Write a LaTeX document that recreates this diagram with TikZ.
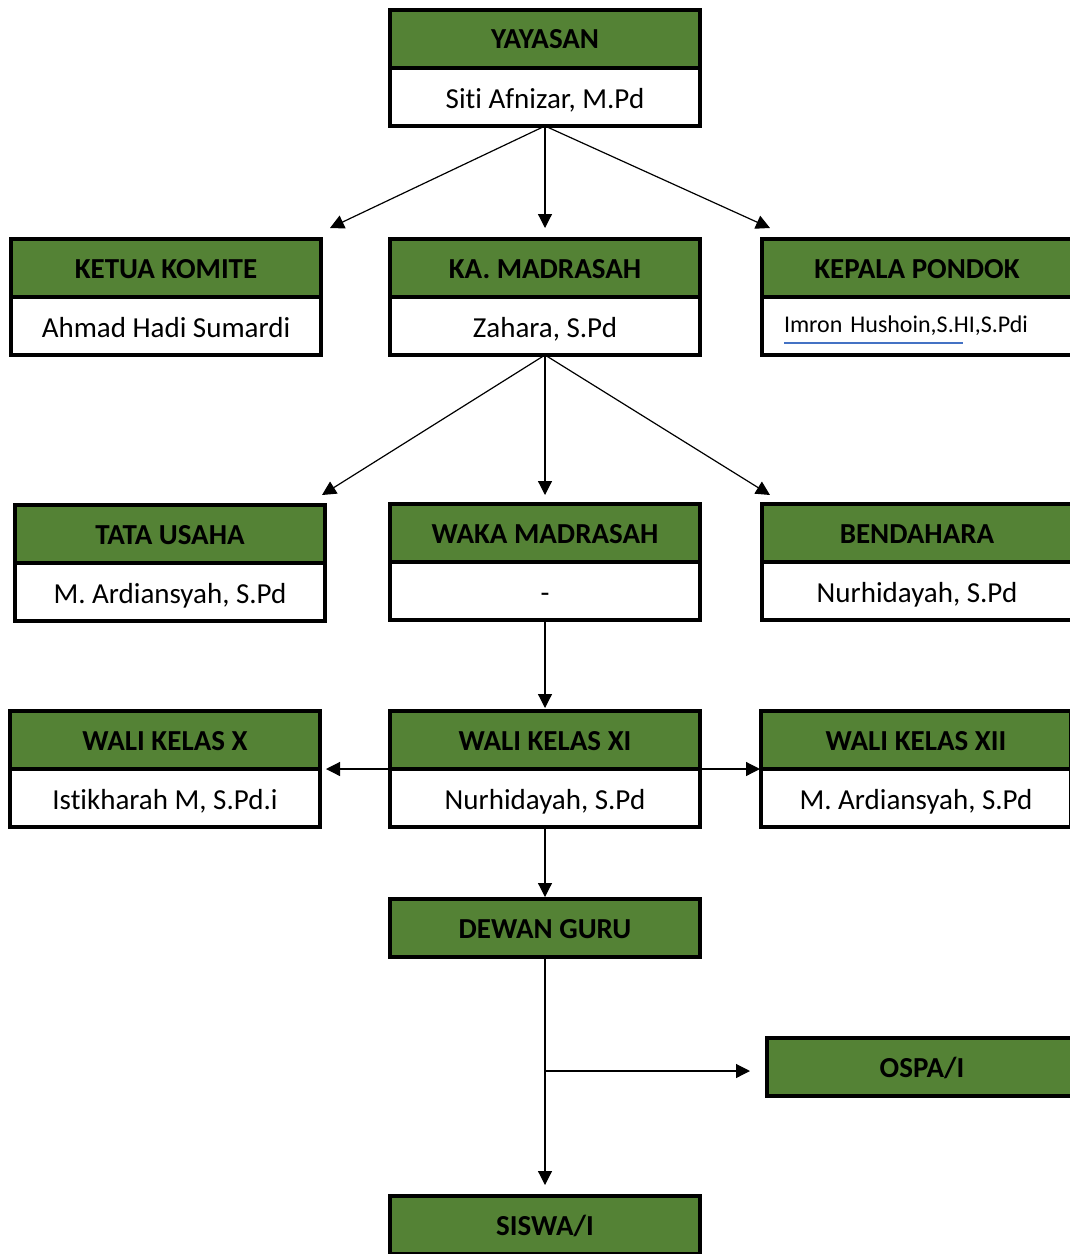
\documentclass[tikz,border=0pt]{standalone}
\usepackage{fontspec}
\setmainfont{Carlito}[Ligatures=NoCommon]
\usetikzlibrary{arrows.meta}
\definecolor{hijau}{RGB}{84,130,53}
\definecolor{garisbiru}{RGB}{68,114,196}
\tikzset{
  judul/.style={draw, line width=2pt, fill=hijau, minimum width=155pt, minimum height=29pt, inner sep=0pt, outer sep=0pt, text height=10pt, text depth=0pt, font=\fontsize{14.5}{17}\selectfont\bfseries},
  nama/.style={draw, line width=2pt, fill=white, minimum width=155pt, minimum height=29pt, inner sep=0pt, outer sep=0pt, text height=11pt, text depth=0pt, font=\fontsize{14.5}{17}\selectfont},
  panah/.style={-{Triangle[length=7pt,width=7pt]}, line width=0.6pt}
}

\begin{document}
\begin{tikzpicture}[x=0.5pt,y=-0.5pt]
  \clip (0,0) rectangle (1070,1254);
  % baris pertama
  \node[judul] (yys-h) at (545,38.5) {YAYASAN};
  \node[nama] (yys-b) at (545,97) {Siti Afnizar, M.Pd};
  % baris kedua
  \node[judul] (komite-h) at (166,268) {KETUA KOMITE};
  \node[nama] (komite-b) at (166,326) {Ahmad Hadi Sumardi};
  \node[judul] (kamad-h) at (545,268) {KA. MADRASAH};
  \node[nama] (kamad-b) at (545,326) {Zahara, S.Pd};
  \node[judul] (pondok-h) at (917,268) {KEPALA PONDOK};
  \node[nama, font=\fontsize{12}{14}\selectfont, text height=6pt, text width=133pt, inner xsep=11pt, align=left] (pondok-b) at (917,326) {Imron Hushoin,S.HI,S.Pdi};
  \draw[garisbiru, line width=1pt] (784,343) -- (963,343);
  % baris ketiga
  \node[judul] (tu-h) at (170,534) {TATA USAHA};
  \node[nama] (tu-b) at (170,592) {M. Ardiansyah, S.Pd};
  \node[judul] (waka-h) at (545,533) {WAKA MADRASAH};
  \node[nama] (waka-b) at (545,591) {-};
  \node[judul] (bend-h) at (917,533) {BENDAHARA};
  \node[nama] (bend-b) at (917,591) {Nurhidayah, S.Pd};
  % wali kelas
  \node[judul] (wk10-h) at (165,740) {WALI KELAS X};
  \node[nama] (wk10-b) at (165,798) {Istikharah M, S.Pd.i};
  \node[judul] (wk11-h) at (545,740) {WALI KELAS XI};
  \node[nama] (wk11-b) at (545,798) {Nurhidayah, S.Pd};
  \node[judul] (wk12-h) at (916,740) {WALI KELAS XII};
  \node[nama] (wk12-b) at (916,798) {M. Ardiansyah, S.Pd};
  % bawah
  \node[judul] (dewan) at (545,928) {DEWAN GURU};
  \node[judul] (ospa) at (922,1067) {OSPA/I};
  \node[judul] (siswa) at (545,1225) {SISWA/I};

  \coordinate (ke-komite) at (330,228);
  \coordinate (ke-kamad) at (545,228);
  \coordinate (ke-pondok) at (770,228);
  \coordinate (ke-tu) at (322,495);
  \coordinate (ke-waka) at (545,495);
  \coordinate (ke-bend) at (770,495);
  \coordinate (ke-wk11) at (545,708);
  \coordinate (ke-wk10) at (326,769);
  \coordinate (ke-wk12) at (760,769);
  \coordinate (ke-dewan) at (545,897);
  \coordinate (ke-siswa) at (545,1185);
  \coordinate (cabang) at (545,1071);
  \coordinate (ke-ospa) at (750,1071);

  \draw[panah] (yys-b.south) -- (ke-komite);
  \draw[panah] (yys-b.south) -- (ke-kamad);
  \draw[panah] (yys-b.south) -- (ke-pondok);
  \draw[panah] (kamad-b.south) -- (ke-tu);
  \draw[panah] (kamad-b.south) -- (ke-waka);
  \draw[panah] (kamad-b.south) -- (ke-bend);
  \draw[panah] (waka-b.south) -- (ke-wk11);
  \draw[panah] (wk11-h.south west) -- (ke-wk10);
  \draw[panah] (wk11-h.south east) -- (ke-wk12);
  \draw[panah] (wk11-b.south) -- (ke-dewan);
  \draw[panah] (dewan.south) -- (ke-siswa);
  \draw[panah] (cabang) -- (ke-ospa);
\end{tikzpicture}
\end{document}
